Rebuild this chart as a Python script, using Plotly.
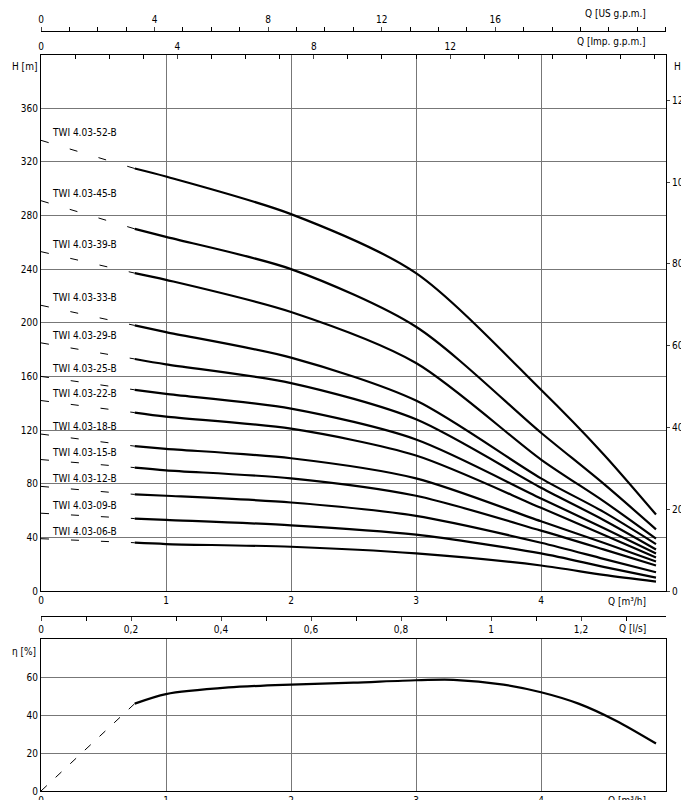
import plotly.graph_objects as go

q = [0.75, 1, 2, 3, 4, 4.5, 4.92]
names = ["TWI 4.03-52-B", "TWI 4.03-45-B", "TWI 4.03-39-B", "TWI 4.03-33-B", "TWI 4.03-29-B", "TWI 4.03-25-B",
         "TWI 4.03-22-B", "TWI 4.03-18-B", "TWI 4.03-15-B", "TWI 4.03-12-B", "TWI 4.03-09-B", "TWI 4.03-06-B"]
h_curves = [
    [315, 309, 281, 237, 150, 102, 57],
    [270, 264, 240, 197, 118, 80, 46],
    [237, 232, 208, 170, 98, 67, 39],
    [198, 193, 174, 142, 84, 59, 35],
    [173, 169, 155, 128, 77, 53, 31],
    [150, 147, 136, 113, 69, 47, 28],
    [133, 130, 121, 101, 62, 42, 25],
    [108, 106, 99, 84, 52, 36, 22],
    [92, 90, 84, 71, 45, 31, 19],
    [72, 71, 66, 56, 36, 24, 14],
    [54, 53, 49, 42, 28, 18, 10],
    [36, 35, 33, 28, 19, 12, 7],
]
h_at_zero = [336, 291, 253, 213, 185, 160, 142, 117, 98, 78, 58, 39]
q_eta = [0.75, 1, 1.5, 2, 2.5, 3, 3.3, 3.7, 4, 4.3, 4.6, 4.92]
eta = [46, 51, 54.5, 56, 57, 58.3, 58.5, 56, 52, 46, 37, 25]
eta_dash_q = [0, 0.75]
eta_dash = [0, 46]

FONT = "DejaVu Sans Condensed"
fig = go.Figure()
for nm, hc, h0 in zip(names, h_curves, h_at_zero):
    fig.add_trace(go.Scatter(x=[0, q[0]], y=[h0, hc[0]], mode="lines", line=dict(color="black", width=1, dash="8px,22px"),
                             xaxis="x", yaxis="y", showlegend=False, hoverinfo="skip"))
    fig.add_trace(go.Scatter(x=q, y=hc, mode="lines", line=dict(color="black", width=2.2, shape="spline", smoothing=0.8),
                             xaxis="x", yaxis="y", showlegend=False))
    fig.add_annotation(x=0.07, y=h0, text=nm, showarrow=False, xanchor="left", yanchor="bottom",
                       xref="x", yref="y", font=dict(size=10, family=FONT, color="black"))
fig.add_trace(go.Scatter(x=eta_dash_q, y=eta_dash, mode="lines", line=dict(color="black", width=1, dash="8px,12px"),
                         xaxis="x5", yaxis="y3", showlegend=False))
fig.add_trace(go.Scatter(x=q_eta, y=eta, mode="lines", line=dict(color="black", width=2.2, shape="spline", smoothing=0.8),
                         xaxis="x5", yaxis="y3", showlegend=False))
for xa, ya in [("x2", "y"), ("x3", "y"), ("x4", "y"), ("x", "y2")]:
    fig.add_trace(go.Scatter(x=[0], y=[0], xaxis=xa, yaxis=ya, mode="markers", marker=dict(opacity=0),
                             showlegend=False, hoverinfo="skip"))

W, H = 689, 800
dx = [33 / W, 658 / W]
top_dom = [1 - 583 / H, 1 - 46.5 / H]
bot_dom = [1 - 783 / H, 1 - 631 / H]
tf = dict(size=10, family=FONT, color="black")
grid = "#777"
common = dict(automargin=False, zeroline=False, tickfont=tf)
fig.update_layout(
    width=W, height=H, margin=dict(l=0, r=0, t=0, b=0, autoexpand=False), plot_bgcolor="white", paper_bgcolor="white",
    font=tf,
    xaxis=dict(domain=dx, range=[0, 5], anchor="y", tickvals=[0, 1, 2, 3, 4], showgrid=True, gridcolor=grid,
               showline=True, linecolor="black", ticks="", **common),
    xaxis2=dict(overlaying="x", side="top", anchor="y", range=[0, 5 * 3.666], tickvals=[0, 4, 8, 12], ticks="inside",
                ticklen=4, minor=dict(dtick=1, ticks="inside", ticklen=4, tickcolor="black"), showgrid=False,
                showline=True, linecolor="black", **common),
    xaxis3=dict(overlaying="x", side="top", anchor="free", position=1 - 23 / H, range=[0, 5 * 4.403],
                tickvals=[0, 4, 8, 12, 16], ticks="outside", ticklen=4,
                minor=dict(dtick=1, ticks="outside", ticklen=4, tickcolor="black"), showgrid=False,
                showline=True, linecolor="black", **common),
    xaxis4=dict(overlaying="x", side="bottom", anchor="free", position=1 - 608 / H, range=[0, 5 / 3.6],
                tickvals=[0, 0.2, 0.4, 0.6, 0.8, 1, 1.2], ticktext=["0", "0,2", "0,4", "0,6", "0,8", "1", "1,2"],
                ticks="outside", ticklen=4, minor=dict(dtick=0.1, ticks="outside", ticklen=4, tickcolor="black"),
                showgrid=False, showline=True, linecolor="black", **common),
    yaxis=dict(domain=top_dom, range=[0, 400], anchor="x", tickvals=list(range(0, 361, 40)), showgrid=True,
               gridcolor=grid, showline=True, linecolor="black", ticks="", **common),
    yaxis2=dict(overlaying="y", side="right", anchor="x", range=[0, 400 * 3.2808], tickvals=list(range(0, 1201, 200)),
                ticks="outside", ticklen=3, showgrid=False, showline=True, linecolor="black", **common),
    xaxis5=dict(domain=dx, range=[0, 5], anchor="y3", tickvals=[0, 1, 2, 3, 4], showgrid=True, gridcolor=grid,
                showline=True, linecolor="black", mirror=True, ticks="", **common),
    yaxis3=dict(domain=bot_dom, range=[0, 80], anchor="x5", tickvals=[0, 20, 40, 60], showgrid=True, gridcolor=grid,
                showline=True, linecolor="black", mirror=True, ticks="", **common),
)
ann = [
    (640, 6, "Q [US g.p.m.]", "right"),
    (640, 34, "Q [Imp. g.p.m.]", "right"),
    (2, 58, "H [m]", "left"),
    (664, 58, "H [ft]", "left"),
    (640, 593, "Q [m³/h]", "right"),
    (640, 620, "Q [l/s]", "right"),
    (2, 643, "η [%]", "left"),
    (640, 792, "Q [m³/h]", "right"),
]
for x, y, t, xa in ann:
    fig.add_annotation(x=x / W, y=1 - y / H, xref="paper", yref="paper", text=t, showarrow=False,
                       xanchor=xa, yanchor="middle", font=tf)
fig.write_html("out.html")
